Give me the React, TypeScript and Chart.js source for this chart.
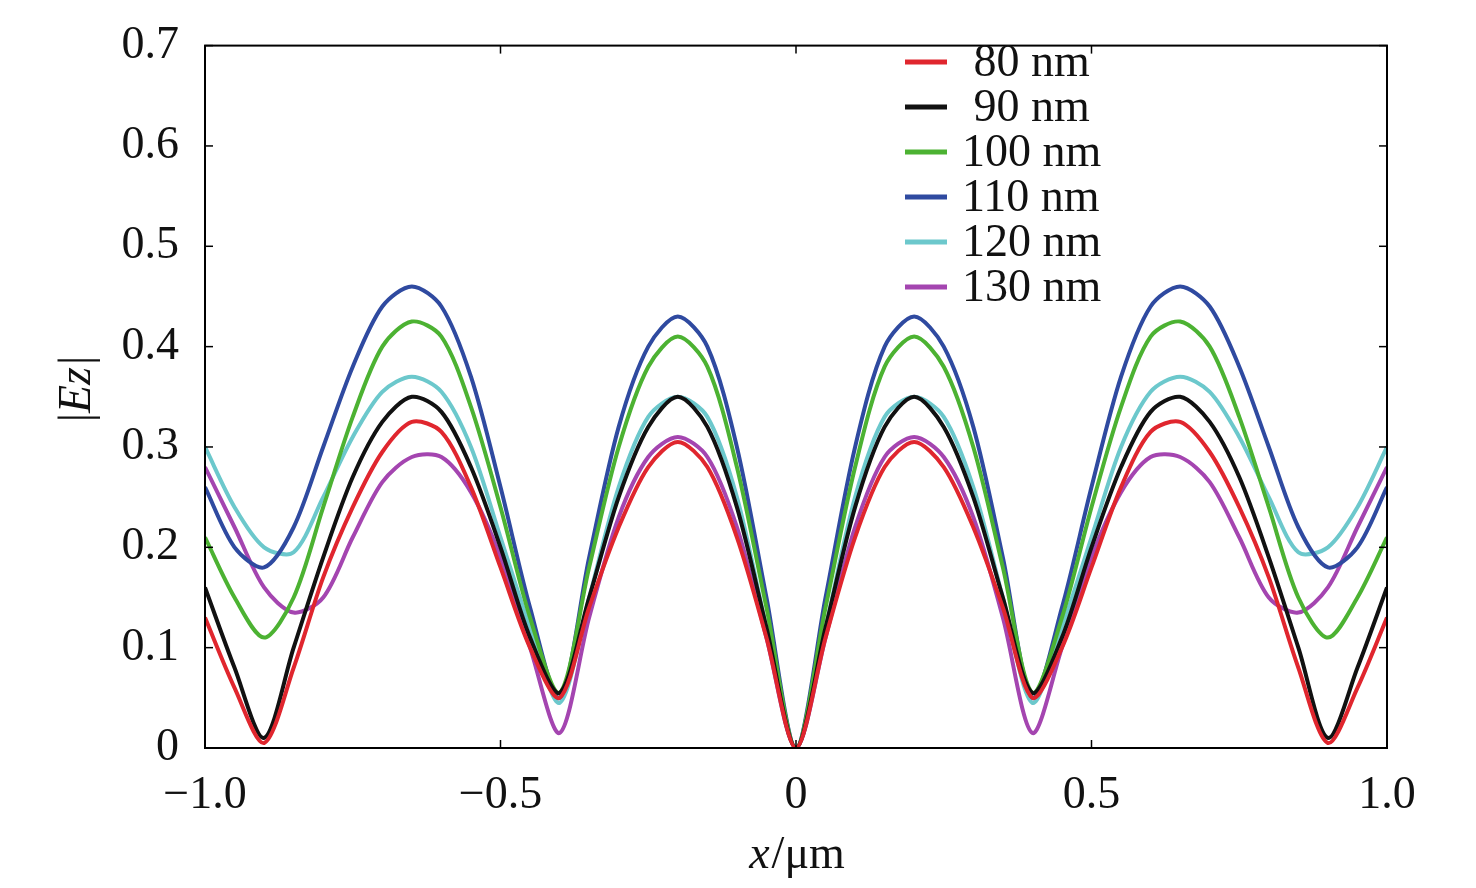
import React, { useEffect, useRef } from "react";
import { Chart, registerables } from "chart.js";
Chart.register(...registerables);

const xs = [-1, -0.95, -0.9, -0.85, -0.8, -0.75, -0.7, -0.65, -0.6, -0.55, -0.5, -0.45, -0.4, -0.35, -0.3, -0.25, -0.2, -0.15, -0.1, -0.05, 0,
  0.05, 0.1, 0.15, 0.2, 0.25, 0.3, 0.35, 0.4, 0.45, 0.5, 0.55, 0.6, 0.65, 0.7, 0.75, 0.8, 0.85, 0.9, 0.95, 1];
const s80 = [0.13, 0.06, 0.005, 0.08, 0.17, 0.24, 0.295, 0.325, 0.315, 0.26, 0.18, 0.1, 0.05, 0.14, 0.22, 0.28, 0.305, 0.28, 0.21, 0.11, 0.0,
  0.11, 0.21, 0.28, 0.305, 0.28, 0.22, 0.14, 0.05, 0.1, 0.18, 0.26, 0.315, 0.325, 0.295, 0.24, 0.17, 0.08, 0.005, 0.06, 0.13];
const s90 = [0.16, 0.08, 0.01, 0.1, 0.19, 0.27, 0.325, 0.35, 0.335, 0.28, 0.2, 0.11, 0.055, 0.15, 0.25, 0.32, 0.35, 0.32, 0.24, 0.12, 0.0,
  0.12, 0.24, 0.32, 0.35, 0.32, 0.25, 0.15, 0.055, 0.11, 0.2, 0.28, 0.335, 0.35, 0.325, 0.27, 0.19, 0.1, 0.01, 0.08, 0.16];
const s100 = [0.21, 0.15, 0.11, 0.15, 0.24, 0.33, 0.4, 0.425, 0.41, 0.34, 0.24, 0.13, 0.055, 0.18, 0.3, 0.38, 0.41, 0.38, 0.28, 0.14, 0.0,
  0.14, 0.28, 0.38, 0.41, 0.38, 0.3, 0.18, 0.055, 0.13, 0.24, 0.34, 0.41, 0.425, 0.4, 0.33, 0.24, 0.15, 0.11, 0.15, 0.21];
const s110 = [0.26, 0.2, 0.18, 0.22, 0.3, 0.38, 0.44, 0.46, 0.44, 0.37, 0.26, 0.14, 0.05, 0.19, 0.32, 0.4, 0.43, 0.4, 0.3, 0.15, 0.0,
  0.15, 0.3, 0.4, 0.43, 0.4, 0.32, 0.19, 0.05, 0.14, 0.26, 0.37, 0.44, 0.46, 0.44, 0.38, 0.3, 0.22, 0.18, 0.2, 0.26];
const s120 = [0.3, 0.24, 0.2, 0.195, 0.25, 0.31, 0.355, 0.37, 0.355, 0.3, 0.21, 0.12, 0.045, 0.15, 0.26, 0.33, 0.35, 0.33, 0.25, 0.12, 0.0,
  0.12, 0.25, 0.33, 0.35, 0.33, 0.26, 0.15, 0.045, 0.12, 0.21, 0.3, 0.355, 0.37, 0.355, 0.31, 0.25, 0.195, 0.2, 0.24, 0.3];
const s130 = [0.28, 0.22, 0.16, 0.135, 0.15, 0.21, 0.265, 0.29, 0.29, 0.255, 0.19, 0.1, 0.015, 0.13, 0.23, 0.29, 0.31, 0.29, 0.22, 0.11, 0.0,
  0.11, 0.22, 0.29, 0.31, 0.29, 0.23, 0.13, 0.015, 0.1, 0.19, 0.255, 0.29, 0.29, 0.265, 0.21, 0.15, 0.135, 0.16, 0.22, 0.28];

const seriesLabels = [" 80 nm", " 90 nm", "100 nm", "110 nm", "120 nm", "130 nm"];
const seriesColors = ["#e0262e", "#111111", "#4cb232", "#2f4aa0", "#6cc8cc", "#a445b0"];
const seriesData = [s80, s90, s100, s110, s120, s130];
const xTicks = [-1, -0.5, 0, 0.5, 1];
const xTickLabels = ["\u22121.0", "\u22120.5", "0", "0.5", "1.0"];
const yTicks = [0, 0.1, 0.2, 0.3, 0.4, 0.5, 0.6, 0.7];

const FONT = "Liberation Serif";
const FS = 46;

export default function App() {
  const ref = useRef<HTMLCanvasElement>(null);
  useEffect(() => {
    document.body.style.margin = "0";
    const deco = {
      id: "deco",
      afterDraw(c: any) {
        const ctx = c.ctx;
        const a = c.chartArea;
        const xs_ = c.scales.x, ys_ = c.scales.y;
        ctx.save();
        ctx.strokeStyle = "#000";
        ctx.lineWidth = 2;
        ctx.strokeRect(a.left, a.top, a.right - a.left, a.bottom - a.top);
        ctx.lineWidth = 1.5;
        for (const v of xTicks) {
          const px = xs_.getPixelForValue(v);
          ctx.beginPath(); ctx.moveTo(px, a.bottom); ctx.lineTo(px, a.bottom - 8); ctx.stroke();
          ctx.beginPath(); ctx.moveTo(px, a.top); ctx.lineTo(px, a.top + 8); ctx.stroke();
        }
        for (const v of yTicks) {
          const py = ys_.getPixelForValue(v);
          ctx.beginPath(); ctx.moveTo(a.left, py); ctx.lineTo(a.left + 8, py); ctx.stroke();
          ctx.beginPath(); ctx.moveTo(a.right, py); ctx.lineTo(a.right - 8, py); ctx.stroke();
        }
        ctx.font = `${FS}px "${FONT}"`;
        ctx.textBaseline = "middle";
        ctx.textAlign = "left";
        seriesLabels.forEach((l, i) => {
          const y = 62 + i * 45;
          ctx.strokeStyle = seriesColors[i];
          ctx.lineWidth = 5;
          ctx.beginPath(); ctx.moveTo(905, y); ctx.lineTo(947, y); ctx.stroke();
          ctx.fillStyle = "#111";
          ctx.fillText(l, 962, y + 2);
        });
        ctx.font = `italic ${FS}px "${FONT}"`;
        const w1 = ctx.measureText("x").width;
        ctx.font = `${FS}px "${FONT}"`;
        const w2 = ctx.measureText("/\u03bcm").width;
        const cx = (a.left + a.right) / 2 - (w1 + w2) / 2;
        ctx.font = `italic ${FS}px "${FONT}"`;
        ctx.fillText("x", cx, 856);
        ctx.font = `${FS}px "${FONT}"`;
        ctx.fillText("/\u03bcm", cx + w1 + 2, 856);
        ctx.translate(78, 390);
        ctx.rotate(-Math.PI / 2);
        ctx.font = `${FS}px "${FONT}"`;
        const t1 = ctx.measureText("|").width;
        ctx.font = `italic ${FS}px "${FONT}"`;
        const t2 = ctx.measureText("Ez").width;
        const sx = -(2 * t1 + t2) / 2;
        ctx.font = `${FS}px "${FONT}"`;
        ctx.fillText("|", sx, 0);
        ctx.font = `italic ${FS}px "${FONT}"`;
        ctx.fillText("Ez", sx + t1, 0);
        ctx.font = `${FS}px "${FONT}"`;
        ctx.fillText("|", sx + t1 + t2 + 2, 0);
        ctx.restore();
      },
    };
    const chart = new Chart(ref.current!, {
      type: "line",
      data: {
        datasets: seriesData.map((d, i) => ({
          label: seriesLabels[i],
          data: xs.map((x, j) => ({ x, y: d[j] })),
          borderColor: seriesColors[i],
          borderWidth: 4,
          pointRadius: 0,
          tension: 0.3,
        })),
      },
      options: {
        animation: false,
        responsive: false,
        layout: { padding: { top: 10, right: 89, left: 0, bottom: 0 } },
        plugins: { legend: { display: false }, tooltip: { enabled: false } },
        scales: {
          x: {
            type: "linear", min: -1, max: 1,
            afterBuildTicks: (s: any) => { s.ticks = xTicks.map((v) => ({ value: v })); },
            afterFit: (s: any) => { s.height = 140; },
            grid: { display: false },
            border: { display: false },
            ticks: {
              color: "#111", font: { family: FONT, size: FS }, padding: 12, maxRotation: 0,
              callback: (v: any) => xTickLabels[xTicks.indexOf(Number(v))] ?? "",
            },
          },
          y: {
            min: 0, max: 0.7,
            afterBuildTicks: (s: any) => { s.ticks = yTicks.map((v) => ({ value: v })); },
            afterFit: (s: any) => { s.width = 205; },
            grid: { display: false },
            border: { display: false },
            ticks: {
              color: "#111", font: { family: FONT, size: FS }, padding: 18,
              callback: (v: any) => (Number(v) === 0 ? "0" : Number(v).toFixed(1)),
            },
          },
        },
      },
      plugins: [deco],
    });
    return () => chart.destroy();
  }, []);
  return <canvas ref={ref} width={1476} height={888} style={{ display: "block" }} />;
}
